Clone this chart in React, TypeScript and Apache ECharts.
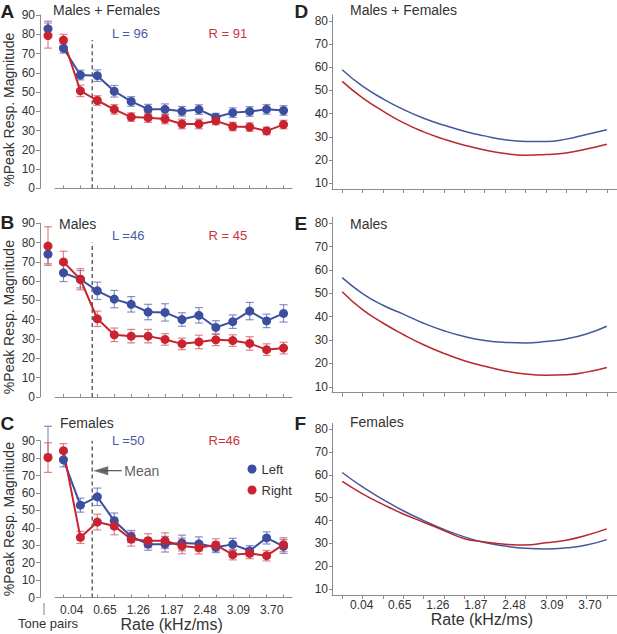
import React, { useEffect, useRef } from 'react';
import * as echarts from 'echarts';

// ---------------- data ----------------
const toneCategory = ['Tone pairs'];
const rateCats = ['0.04', '0.35', '0.65', '0.96', '1.26', '1.57', '1.87', '2.18', '2.48', '2.79', '3.09', '3.40', '3.70', '4.01'];
const rateTickLabels = ['0.04', '0.65', '1.26', '1.87', '2.48', '3.09', '3.70'];
const leftYTicks = [0, 90];
const rightYTicks = [10, 20, 30, 40, 50, 60, 70, 80];

// A: Males + Females
const aToneMean = [82.8, 79.3]; // [Left, Right]
const aToneErr = [4, 6.5];
const aLeftMean = [72.7, 58.8, 58.5, 50.4, 45.1, 41.1, 41.0, 40.0, 40.9, 36.9, 39.3, 39.9, 41.0, 40.4];
const aLeftErr = [2.5, 2.5, 3, 3, 2.5, 2.5, 2.8, 2.5, 2.5, 2, 2.5, 2.5, 2.5, 2.5];
const aRightMean = [77.0, 50.6, 45.6, 41.0, 37.0, 36.7, 36.0, 33.4, 33.4, 35.0, 32.1, 31.8, 29.8, 33.1];
const aRightErr = [3, 3, 2.5, 2.5, 2.2, 2.5, 2.5, 2.5, 2.5, 2, 2.2, 2.2, 2, 2.2];

// B: Males
const bToneMean = [74.0, 78.2];
const bToneErr = [5, 10];
const bLeftMean = [64.3, 61.0, 55.0, 50.7, 48.0, 44.0, 43.8, 40.1, 42.3, 36.0, 39.0, 44.5, 39.4, 43.3];
const bLeftErr = [4.5, 4.5, 4.5, 4.5, 4, 4, 4.5, 3.5, 4, 3.5, 3.5, 4.5, 3.5, 4.5];
const bRightMean = [70.0, 61.0, 40.5, 32.2, 31.5, 31.5, 29.8, 27.5, 28.5, 29.6, 29.2, 27.7, 24.5, 25.3];
const bRightErr = [5.5, 5.5, 4, 3.5, 3.5, 3.5, 3, 3, 3.5, 3, 3, 3.5, 3, 3];

// C: Females
const cToneMean = [90.3, 80.3];
const cToneErr = [8, 8.5];
const cLeftMean = [79.0, 53.0, 57.8, 44.0, 35.0, 30.6, 30.6, 31.3, 30.8, 28.8, 30.5, 26.8, 34.2, 29.3];
const cLeftErr = [4, 4, 5, 4.5, 3.5, 3.5, 4.5, 4.5, 4, 3, 3.5, 3, 3.5, 4];
const cRightMean = [84.3, 34.5, 43.3, 41.0, 33.5, 32.6, 32.6, 29.6, 28.5, 30.2, 24.6, 25.3, 24.0, 30.3];
const cRightErr = [4, 3.5, 4.5, 5, 4, 4, 4.5, 4.5, 3.5, 3.5, 3, 3, 3, 4];

const meanRateIndex = 1.7;
const meanLineTop = [77, 80, 90];
const meanArrow = { tip: 2.2, tail: 3.45, value: 72.8 };

// D: Males + Females fits
const dLeftFit = [58.9, 51.8, 46.4, 41.8, 38.0, 35.0, 32.4, 30.4, 28.7, 28.0, 28.0, 29.0, 31.0, 33.0];
const dRightFit = [53.9, 46.8, 41.1, 36.1, 32.1, 29.0, 26.4, 24.3, 22.8, 22.1, 22.4, 23.0, 24.7, 26.8];
// E: Males fits
const eLeftFit = [56.7, 49.9, 44.9, 41.1, 37.2, 34.0, 31.5, 29.8, 29.0, 28.8, 29.4, 30.5, 32.6, 35.9];
const eRightFit = [50.7, 43.0, 37.3, 32.4, 28.0, 24.3, 21.2, 18.8, 16.8, 15.5, 15.0, 15.2, 16.3, 18.3];
// F: Females fits
const fLeftFit = [61.0, 54.7, 49.3, 44.3, 40.0, 36.1, 32.9, 30.4, 28.9, 27.9, 27.6, 28.1, 29.3, 31.7];
const fRightFit = [57.1, 51.7, 47.1, 42.9, 39.3, 35.7, 32.1, 30.7, 29.7, 29.3, 30.3, 31.4, 33.6, 36.4];

const leftSubtitles = ['Males + Females', 'Males', 'Females'];
const leftCounts = [['L = 96', 'R = 91'], ['L =46', 'R = 45'], ['L =50', 'R=46']];
const letters = [['A', 'B', 'C'], ['D', 'E', 'F']];

// ---------------- styles ----------------
const FONT = '"Liberation Sans", Arial, Helvetica, sans-serif';
const BLUE = '#3c4e9f';
const RED = '#c8232f';
const BLUE_ERR = 'rgba(95,108,180,0.75)';
const RED_ERR = 'rgba(214,90,98,0.75)';
const BLUE_FIT = '#46579d';
const RED_FIT = '#b8282d';
const AXIS = '#8c8c8c';
const TXT = '#333333';

function errRender(color: string) {
  return (params: any, api: any) => {
    const x = api.value(0);
    const lo = api.coord([x, api.value(1)]);
    const hi = api.coord([x, api.value(2)]);
    const w = 4;
    const style = { stroke: color, lineWidth: 1.2 };
    return {
      type: 'group',
      children: [
        { type: 'line', shape: { x1: lo[0], y1: lo[1], x2: hi[0], y2: hi[1] }, style },
        { type: 'line', shape: { x1: lo[0] - w, y1: lo[1], x2: lo[0] + w, y2: lo[1] }, style },
        { type: 'line', shape: { x1: hi[0] - w, y1: hi[1], x2: hi[0] + w, y2: hi[1] }, style },
      ],
    };
  };
}

function buildOption() {
  const grid: any[] = [];
  const xAxis: any[] = [];
  const yAxis: any[] = [];
  const series: any[] = [];
  const addG = (g: any) => (grid.push(g), grid.length - 1);
  const addX = (a: any) => (xAxis.push(a), xAxis.length - 1);
  const addY = (a: any) => (yAxis.push(a), yAxis.length - 1);

  const leftPanels = [
    { top: 15, height: 173.3, tone: aToneMean, toneErr: aToneErr, L: aLeftMean, Le: aLeftErr, R: aRightMean, Re: aRightErr, pad: 16, labels: false },
    { top: 223.3, height: 173.6, tone: bToneMean, toneErr: bToneErr, L: bLeftMean, Le: bLeftErr, R: bRightMean, Re: bRightErr, pad: 14, labels: false },
    { top: 440.7, height: 156.8, tone: cToneMean, toneErr: cToneErr, L: cLeftMean, Le: cLeftErr, R: cRightMean, Re: cRightErr, pad: 0, labels: true },
  ];

  leftPanels.forEach((p, pi) => {
    // tone pairs grid
    const gT = addG({ left: 40, top: p.top, width: 16, height: p.height });
    const xT = addX({
      type: 'category', gridIndex: gT, data: toneCategory, position: 'bottom',
      axisLine: { show: false }, axisTick: { show: false },
      axisLabel: p.labels
        ? { interval: 0, margin: 19, fontSize: 13, color: TXT, fontFamily: FONT }
        : { show: false },
    });
    if (p.labels) {
      // separator mark above the "Tone pairs" label
      addX({
        type: 'category', gridIndex: gT, data: toneCategory, position: 'bottom',
        axisLine: { show: false }, axisTick: { show: false },
        axisLabel: {
          interval: 0, margin: 5.5, formatter: () => '{bar| }{sp| }',
          rich: { bar: { width: 1, height: 12, backgroundColor: '#808080' }, sp: { width: 8, height: 12 } },
        },
      });
    }
    const yT = addY({
      type: 'value', gridIndex: gT, min: leftYTicks[0], max: leftYTicks[1], interval: 10,
      axisLine: { show: true, lineStyle: { color: AXIS } },
      axisTick: { show: true, length: 4, lineStyle: { color: AXIS } },
      axisLabel: { fontSize: 12, color: TXT, margin: 5, fontFamily: FONT },
      splitLine: { show: false },
      name: '%Peak Resp. Magnitude', nameLocation: 'middle', nameGap: 24,
      nameTextStyle: { fontSize: 14, color: TXT, fontFamily: FONT, padding: [0, p.pad, 0, 0] },
    });
    const errs = [
      { c: BLUE_ERR, m: p.tone[0], e: p.toneErr[0] },
      { c: RED_ERR, m: p.tone[1], e: p.toneErr[1] },
    ];
    errs.forEach((e, k) => {
      series.push({
        type: 'custom', name: k === 0 ? 'Left SEM' : 'Right SEM', xAxisIndex: xT, yAxisIndex: yT,
        renderItem: errRender(e.c), data: [[0, e.m - e.e, e.m + e.e]], encode: { x: 0, y: [1, 2] }, z: 2,
      });
    });
    [BLUE, RED].forEach((c, k) => {
      series.push({
        type: 'scatter', name: k === 0 ? 'Left' : 'Right', xAxisIndex: xT, yAxisIndex: yT,
        data: [[0, p.tone[k]]], symbolSize: 9, itemStyle: { color: c, opacity: 1 }, z: 3,
      });
    });

    // main grid
    const gM = addG({ left: 55, top: p.top, width: 237, height: p.height });
    const xM = addX({
      type: 'category', gridIndex: gM, data: rateCats, boundaryGap: true, position: 'bottom',
      axisLine: { show: true, lineStyle: { color: AXIS } },
      axisTick: { show: true, inside: true, length: 3, alignWithLabel: true, interval: 0, lineStyle: { color: AXIS } },
      axisLabel: { show: false },
    });
    const xV = addX({ type: 'value', gridIndex: gM, min: -0.5, max: 13.5, show: false });
    const yM = addY({ type: 'value', gridIndex: gM, min: leftYTicks[0], max: leftYTicks[1], show: false });

    // mean line
    series.push({
      type: 'line', name: 'meanline', xAxisIndex: xV, yAxisIndex: yM,
      data: [[meanRateIndex, 0], [meanRateIndex, meanLineTop[pi]]],
      symbol: 'none', lineStyle: { type: [4, 3], color: '#666', width: 1.5 }, silent: true, z: 1,
    });

    const sets = [
      { name: 'Left', m: p.L, e: p.Le, c: BLUE, ec: BLUE_ERR },
      { name: 'Right', m: p.R, e: p.Re, c: RED, ec: RED_ERR },
    ];
    sets.forEach((s) => {
      series.push({
        type: 'custom', name: s.name + ' SEM', xAxisIndex: xM, yAxisIndex: yM,
        renderItem: errRender(s.ec), data: s.m.map((v, i) => [i, v - s.e[i], v + s.e[i]]),
        encode: { x: 0, y: [1, 2] }, z: 2,
      });
    });
    sets.forEach((s) => {
      series.push({
        type: 'line', name: s.name, xAxisIndex: xM, yAxisIndex: yM, data: s.m,
        symbol: 'circle', symbolSize: 9, showSymbol: true,
        lineStyle: { color: s.c, width: 2 }, itemStyle: { color: s.c }, z: 3,
      });
    });

    if (p.labels) {
      // Mean arrow
      series.push({
        type: 'line', name: 'arrow', xAxisIndex: xV, yAxisIndex: yM,
        data: [[meanArrow.tip, meanArrow.value], [meanArrow.tail, meanArrow.value]],
        symbol: 'none', lineStyle: { color: '#555', width: 1.2 }, silent: true, z: 4,
      });
      series.push({
        type: 'scatter', name: 'arrowhead', xAxisIndex: xV, yAxisIndex: yM,
        data: [[meanArrow.tip, meanArrow.value]], symbol: 'triangle', symbolRotate: 90, symbolSize: [9, 15],
        itemStyle: { color: '#4a4a4a' }, silent: true, z: 4,
      });
      series.push({
        type: 'scatter', name: 'meanlabel', xAxisIndex: xV, yAxisIndex: yM,
        data: [[meanArrow.tail, meanArrow.value]], symbolSize: 1, itemStyle: { color: 'rgba(0,0,0,0)' },
        label: { show: true, position: 'right', distance: 2, formatter: 'Mean', fontSize: 14, color: TXT, fontFamily: FONT },
        silent: true, z: 4,
      });

      const gL = addG({ left: 55, top: p.top, width: 233.3, height: p.height });
      addX({
        type: 'category', gridIndex: gL, data: rateTickLabels, position: 'bottom',
        axisLine: { show: false }, axisTick: { show: false },
        axisLabel: { interval: 0, fontSize: 12, color: TXT, margin: 6, fontFamily: FONT },
        name: 'Rate (kHz/ms)', nameLocation: 'middle', nameGap: 19,
        nameTextStyle: { fontSize: 16, color: TXT, fontFamily: FONT },
      });
      addY({ type: 'value', gridIndex: gL, min: 0, max: 90, show: false });
    }
  });

  const rightPanels = [
    { top: 15, height: 174, L: dLeftFit, R: dRightFit, labels: false },
    { top: 217.3, height: 175.4, L: eLeftFit, R: eRightFit, labels: false },
    { top: 423.3, height: 171.7, L: fLeftFit, R: fRightFit, labels: true },
  ];
  rightPanels.forEach((p) => {
    const g = addG({ left: 332, top: p.top, width: 286, height: p.height });
    const x = addX({
      type: 'category', gridIndex: g, data: rateCats, boundaryGap: true, position: 'bottom',
      axisLine: { show: true, lineStyle: { color: AXIS } },
      axisTick: { show: true, length: 4, alignWithLabel: true, interval: 0, lineStyle: { color: AXIS } },
      axisLabel: { show: false },
    });
    const y = addY({
      type: 'value', gridIndex: g, min: 7.5, max: 82.5,
      axisLine: { show: true, lineStyle: { color: AXIS } },
      axisTick: { show: true, length: 3, customValues: rightYTicks, lineStyle: { color: AXIS } },
      axisLabel: { fontSize: 12, color: TXT, margin: 4, fontFamily: FONT, customValues: rightYTicks },
      splitLine: { show: false },
    });
    [
      { name: 'Left', d: p.L, c: BLUE_FIT },
      { name: 'Right', d: p.R, c: RED_FIT },
    ].forEach((s) => {
      series.push({
        type: 'line', name: s.name + ' fit', xAxisIndex: x, yAxisIndex: y, data: s.d,
        smooth: 0.5, symbol: 'none', lineStyle: { color: s.c, width: 1.5 }, z: 3,
      });
    });
    if (p.labels) {
      const gL = addG({ left: 342.7, top: p.top, width: 266.3, height: p.height });
      addX({
        type: 'category', gridIndex: gL, data: rateTickLabels, position: 'bottom',
        axisLine: { show: false }, axisTick: { show: false },
        axisLabel: { interval: 0, fontSize: 12, color: TXT, margin: 4, fontFamily: FONT },
        name: 'Rate (kHz/ms)', nameLocation: 'middle', nameGap: 15,
        nameTextStyle: { fontSize: 16, color: TXT, fontFamily: FONT, padding: [0, 0, 0, 12] },
      });
      addY({ type: 'value', gridIndex: gL, min: 0, max: 90, show: false });
    }
  });

  const txt = (x: number, y: number, text: string, size: number, color: string, bold = false) => ({
    type: 'text', x, y, silent: true,
    style: { text, fill: color, font: `${bold ? 'bold ' : ''}${size}px ${FONT}`, align: 'left', verticalAlign: 'middle' },
  });
  const leftTops = [10, 224, 423];
  const rightTops = [10, 224, 422];
  const leftSubX = [53, 59, 60];
  const letterY = [[11.5, 222, 423.5], [11.5, 223, 423]];
  const countY = [33, 235, 440.7];
  const graphic: any[] = [];
  [0, 1, 2].forEach((i) => {
    graphic.push(txt(0.5, letterY[0][i], letters[0][i], 19, '#222', true));
    graphic.push(txt(294.5, letterY[1][i], letters[1][i], 19, '#222', true));
    graphic.push(txt(leftSubX[i], leftTops[i], leftSubtitles[i], 14, TXT));
    graphic.push(txt(350, rightTops[i], leftSubtitles[i], 14, TXT));
    graphic.push(txt(112, countY[i], leftCounts[i][0], 13, '#4a5aa6'));
    graphic.push(txt(208.5, countY[i], leftCounts[i][1], 13, '#c8323c'));
  });

  return {
    animation: false,
    textStyle: { fontFamily: FONT },
    grid, xAxis, yAxis, series, graphic,
    legend: {
      data: ['Left', 'Right'], orient: 'vertical', left: 242.5, top: 457.5, itemWidth: 9, itemHeight: 9, itemGap: 8,
      icon: 'circle', selectedMode: false, textStyle: { fontSize: 13, color: TXT, fontFamily: FONT },
    },
  };
}

export default function App() {
  const ref = useRef<HTMLDivElement>(null);
  useEffect(() => {
    if (!ref.current) return;
    const chart = echarts.init(ref.current, undefined, { renderer: 'svg' });
    chart.setOption(buildOption() as any);
    return () => chart.dispose();
  }, []);
  return <div ref={ref} style={{ position: 'fixed', left: 0, top: 0, width: 617, height: 634, background: '#fff' }} />;
}
